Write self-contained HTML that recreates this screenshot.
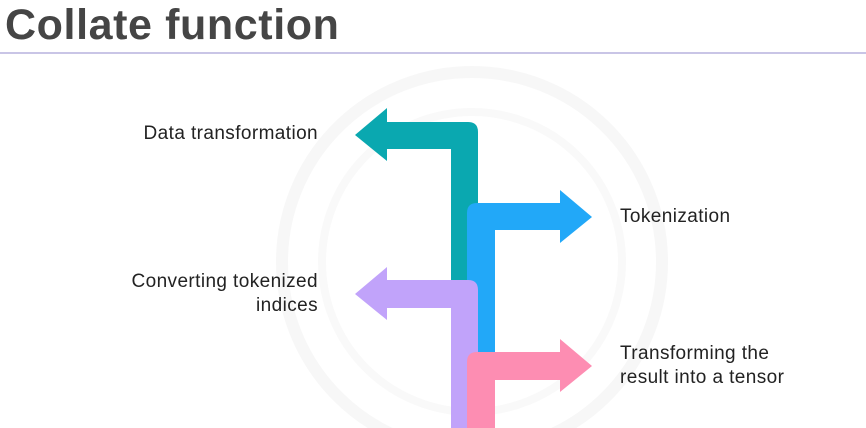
<!DOCTYPE html>
<html><head><style>
html,body{margin:0;width:866px;height:428px;background:#fff;overflow:hidden;position:relative;font-family:"Liberation Sans",sans-serif;}
.t{position:absolute;font-size:19px;color:#222;line-height:24px;letter-spacing:0.4px;white-space:nowrap;}
</style></head><body>
<div style="position:absolute;left:5px;top:1px;font-size:43px;font-weight:bold;color:#454545;letter-spacing:0.6px;white-space:nowrap">Collate function</div>
<div style="position:absolute;left:0;top:52px;width:866px;height:2px;background:#c9c5e6"></div>
<svg width="866" height="428" style="position:absolute;left:0;top:0;display:block">
<circle cx="472" cy="262" r="190" fill="none" stroke="#f7f7f7" stroke-width="12"/>
<circle cx="472" cy="262" r="150" fill="none" stroke="#f9f9f9" stroke-width="8"/>
<path d="M387 122 H468 Q478 122 478 132 V282 H451 V149 H387 V161 L355 135 L387 108 Z" fill="#0aa8b0"/>
<path d="M467 352 V213 Q467 203 477 203 H560 V190 L592 217 L560 243 V230 H495 V352 Z" fill="#22a8f8"/>
<path d="M387 280 H468 Q478 280 478 290 V428 H451 V308 H387 V320 L355 294 L387 267 Z" fill="#c1a3fa"/>
<path d="M467 428 V362 Q467 352 477 352 H560 V339 L592 366 L560 392 V380 H495 V428 Z" fill="#fd8db2"/>
</svg>
<div class="t" style="right:548px;top:122px;text-align:right">Data transformation</div>
<div class="t" style="left:620px;top:205px">Tokenization</div>
<div class="t" style="right:548px;top:270px;text-align:right">Converting tokenized<br>indices</div>
<div class="t" style="left:620px;top:342px">Transforming the<br>result into a tensor</div>
</body></html>
